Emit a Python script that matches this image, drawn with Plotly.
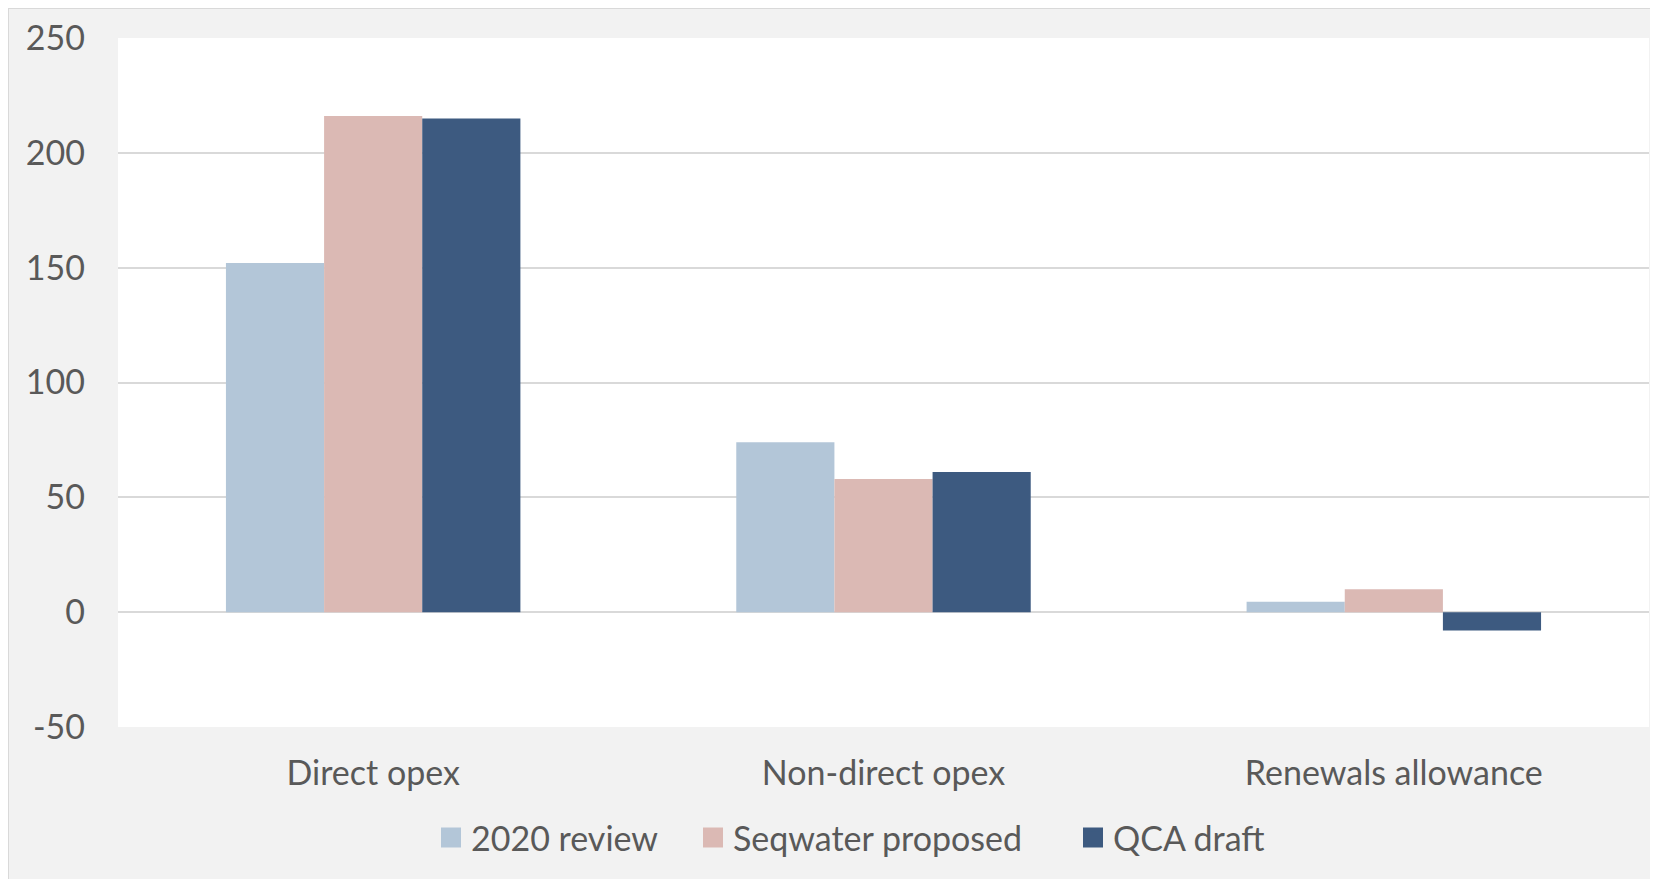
import plotly.graph_objects as go

# Data
categories = ["Direct opex", "Non-direct opex", "Renewals allowance"]
review_2020 = [152, 74, 4.5]
seqwater_proposed = [216, 58, 10]
qca_draft = [215, 61, -8]

series_names = ["2020 review", "Seqwater proposed", "QCA draft"]
series_values = [review_2020, seqwater_proposed, qca_draft]
colors = ["#b3c6d8", "#dbb9b4", "#3d5a80"]

y_ticks = [-50, 0, 50, 100, 150, 200, 250]
y_tick_labels = ["-50", "0", "50", "100", "150", "200", "250"]

# the page body adds an 8px margin, so the figure is 8px smaller each way
W, H = 1650, 871
L, R, T, B = 110, 9, 30, 152
pw, ph = W - L - R, H - T - B


def px_x(p):
    return (p - L) / pw


def px_y(p):
    return (H - B - p) / ph


fig = go.Figure()

legend_ids = ["legend", "legend2", "legend3"]
legend_x = [423, 685, 1065]   # left edge of each legend entry, px

for name, vals, c, lg in zip(series_names, series_values, colors, legend_ids):
    fig.add_trace(go.Bar(
        x=categories, y=vals, name=name,
        marker=dict(color=c, line=dict(width=0)),
        showlegend=False,
    ))
    # legend-only entry so the swatch can be a bigger square
    fig.add_trace(go.Scatter(
        x=[None], y=[None], mode="markers", name=name, legend=lg,
        marker=dict(symbol="square", size=16, color=c,
                    line=dict(color=c, width=4)),
    ))

font = "Lato, 'Noto Sans', sans-serif"
txt = "#595959"

legends = {}
for lg, lx in zip(legend_ids, legend_x):
    legends[lg] = dict(
        orientation="h",
        x=px_x(lx), xanchor="left",
        y=px_y(830), yanchor="middle",
        bgcolor="rgba(0,0,0,0)",
        font=dict(size=34, color=txt),
        itemclick=False,
    )

fig.update_layout(
    width=W, height=H,
    margin=dict(l=L, r=R, t=T, b=B, pad=0),
    paper_bgcolor="#f2f2f2",
    plot_bgcolor="white",
    barmode="group",
    bargap=0.423,
    bargroupgap=0,
    font=dict(family=font, size=34, color=txt),
    shapes=[
        # thin frame on the chart area
        dict(type="rect", xref="paper", yref="paper",
             x0=px_x(0), x1=px_x(W + 10), y0=px_y(H + 10), y1=px_y(0),
             line=dict(color="#d9d9d9", width=2), layer="below"),
    ],
    **legends,
)

fig.update_xaxes(
    showgrid=False, zeroline=False, showline=False,
    ticks="", ticklabelstandoff=23,
    tickfont=dict(size=34, color=txt),
)

fig.update_yaxes(
    range=[-50, 250], tickvals=y_ticks, ticktext=y_tick_labels,
    showgrid=True, gridcolor="#d9d9d9", gridwidth=2,
    zeroline=True, zerolinecolor="#d9d9d9", zerolinewidth=2,
    showline=False, ticks="", ticklabelstandoff=32,
    tickfont=dict(size=34, color=txt),
)

fig.write_html("out.html")
